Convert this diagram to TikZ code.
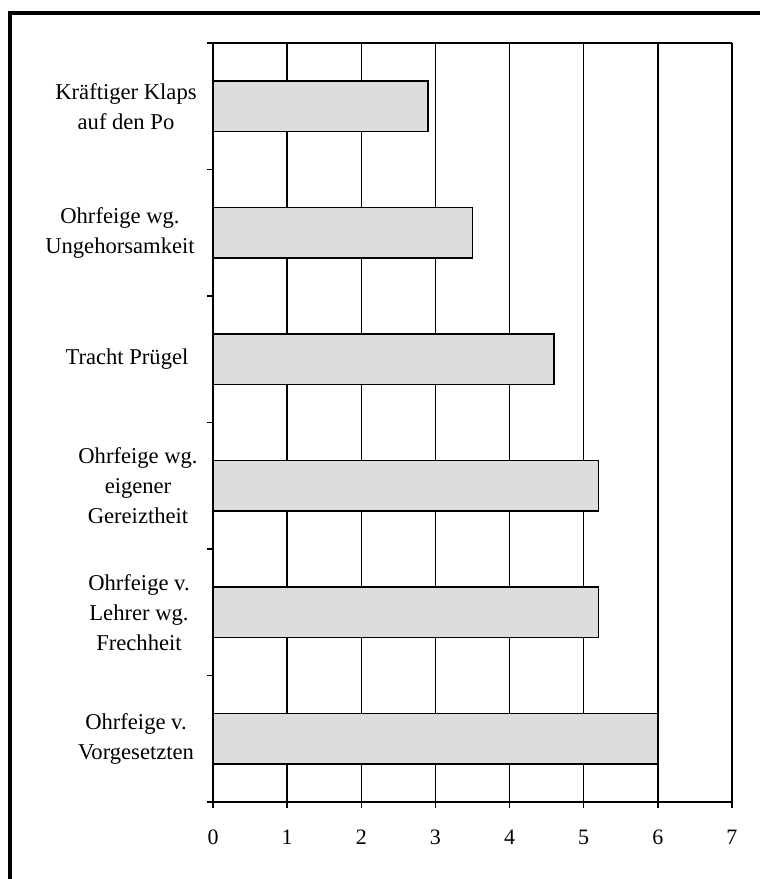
\documentclass[tikz,border=0pt]{standalone}
\usepackage{fontspec}
\setmainfont{Liberation Serif}
\definecolor{barfill}{HTML}{DDDDDD}
\begin{document}
\begin{tikzpicture}[x=1pt,y=-1pt,
  gridline/.style={line width=1.4pt},
  barbox/.style={draw=black, line width=1.4pt, fill=barfill},
  frameline/.style={line width=3.3pt},
  lab/.style={align=center, font=\fontsize{22.6}{30}\selectfont, inner sep=0pt},
  ticklab/.style={font=\fontsize{22}{26}\selectfont, inner sep=0pt, anchor=base}]
\useasboundingbox (0,0) rectangle (760,879);
% outer frame (top and left)
\draw[frameline] (10,879) -- (10,13) -- (760,13);
% vertical gridlines with ticks below axis
\foreach \i in {1,...,7} {
  \coordinate (gt\i) at ({213+74.14*\i},43);
  \coordinate (gb\i) at ({213+74.14*\i},808);
  \draw[gridline] (gt\i) -- (gb\i);
}
% top border of plot area
\coordinate (tl) at (207,43);
\coordinate (tr) at (732,43);
\draw[gridline] (tl) -- (tr);
% bars
\foreach \v [count=\k] in {2.9,3.5,4.6,5.2,5.2,6.0} {
  \coordinate (b\k a) at (213,{43+126.5*(\k-0.5)-25.3});
  \coordinate (b\k b) at ({213+74.14*\v},{43+126.5*(\k-0.5)+25.3});
  \draw[barbox] (b\k a) rectangle (b\k b);
}
% axes
\coordinate (ax0) at (213,43);
\coordinate (ax1) at (213,808);
\draw[gridline] (ax0) -- (ax1);
\coordinate (bx0) at (207,802);
\coordinate (bx1) at (732,802);
\draw[gridline] (bx0) -- (bx1);
% left category ticks
\foreach \k in {1,...,5} {
  \coordinate (lt\k) at (207,{43+126.5*\k});
  \coordinate (lr\k) at (213,{43+126.5*\k});
  \draw[gridline] (lt\k) -- (lr\k);
}
% x tick labels
\foreach \i in {0,...,7} {
  \node[ticklab] (xl\i) at ({213+74.14*\i},844) {\i};
}
% category labels
\node[lab] (c1) at (126,{43+126.5*0.5}) {Kräftiger Klaps\\auf den Po};
\node[lab] (c2) at (120,{43+126.5*1.5}) {Ohrfeige wg.\\Ungehorsamkeit};
\node[lab] (c3) at (127,{43+126.5*2.5}) {Tracht Prügel};
\node[lab] (c4) at (138,{43+126.5*3.5}) {Ohrfeige wg.\\eigener\\Gereiztheit};
\node[lab] (c5) at (139,{43+126.5*4.5}) {Ohrfeige v.\\Lehrer wg.\\Frechheit};
\node[lab] (c6) at (136,{43+126.5*5.5}) {Ohrfeige v.\\Vorgesetzten};
\end{tikzpicture}
\end{document}
